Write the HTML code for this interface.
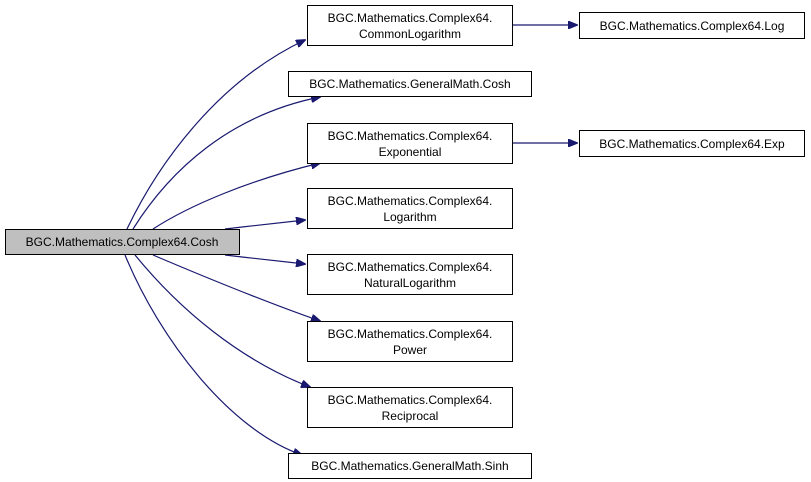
<!DOCTYPE html>
<html><head><meta charset="utf-8"><style>
html,body{margin:0;padding:0;background:#fff;}
svg{display:block;}
text{font-family:"Liberation Sans",Arial,sans-serif;font-size:12px;fill:#000;}
</style></head><body>
<svg width="811" height="482" viewBox="0 0 811 482" xmlns="http://www.w3.org/2000/svg">
<defs><marker id="a" markerWidth="10" markerHeight="8" refX="9" refY="4" orient="auto" markerUnits="userSpaceOnUse"><path d="M0,0 L10,4 L0,8 z" fill="#191970" stroke="#191970"/></marker></defs>
<g fill="none" stroke="#191970" stroke-width="1.2">
<path d="M127,229 C160,160 220,80 305,40" marker-end="url(#a)"/>
<path d="M133,229 C170,170 230,115 320,97" marker-end="url(#a)"/>
<path d="M153,229 C190,205 250,180 320,163" marker-end="url(#a)"/>
<path d="M225,229 C250,226 270,224 305,220" marker-end="url(#a)"/>
<path d="M225,255 C250,258 270,260 305,264" marker-end="url(#a)"/>
<path d="M153,255 C200,275 260,300 320,321" marker-end="url(#a)"/>
<path d="M135,255 C180,310 240,360 310,387" marker-end="url(#a)"/>
<path d="M125,255 C160,340 230,430 302,455" marker-end="url(#a)"/>
<path d="M512,25 L577,25" marker-end="url(#a)"/>
<path d="M512,143 L577,143" marker-end="url(#a)"/>
</g>
<g stroke="#000" stroke-width="1">
<rect x="5.5" y="229.5" width="234" height="25" fill="#bfbfbf"/>
<rect x="307.5" y="5.5" width="205" height="40" fill="#fff"/>
<rect x="288.5" y="71.5" width="243" height="25" fill="#fff"/>
<rect x="307.5" y="123.5" width="205" height="40" fill="#fff"/>
<rect x="307.5" y="188.5" width="205" height="40" fill="#fff"/>
<rect x="307.5" y="254.5" width="205" height="40" fill="#fff"/>
<rect x="307.5" y="321.5" width="205" height="40" fill="#fff"/>
<rect x="307.5" y="387.5" width="205" height="40" fill="#fff"/>
<rect x="288.5" y="453.5" width="243" height="25" fill="#fff"/>
<rect x="579.5" y="12.5" width="225" height="26" fill="#fff"/>
<rect x="579.5" y="130.5" width="225" height="26" fill="#fff"/>
</g>
<g text-anchor="middle">
<text x="122" y="246">BGC.Mathematics.Complex64.Cosh</text>
<text x="410" y="22">BGC.Mathematics.Complex64.</text><text x="410" y="38">CommonLogarithm</text>
<text x="410" y="88">BGC.Mathematics.GeneralMath.Cosh</text>
<text x="410" y="140">BGC.Mathematics.Complex64.</text><text x="410" y="156">Exponential</text>
<text x="410" y="205">BGC.Mathematics.Complex64.</text><text x="410" y="221">Logarithm</text>
<text x="410" y="271">BGC.Mathematics.Complex64.</text><text x="410" y="287">NaturalLogarithm</text>
<text x="410" y="338">BGC.Mathematics.Complex64.</text><text x="410" y="354">Power</text>
<text x="410" y="404">BGC.Mathematics.Complex64.</text><text x="410" y="420">Reciprocal</text>
<text x="410" y="470">BGC.Mathematics.GeneralMath.Sinh</text>
<text x="692" y="30">BGC.Mathematics.Complex64.Log</text>
<text x="692" y="148">BGC.Mathematics.Complex64.Exp</text>
</g>
</svg>
</body></html>
